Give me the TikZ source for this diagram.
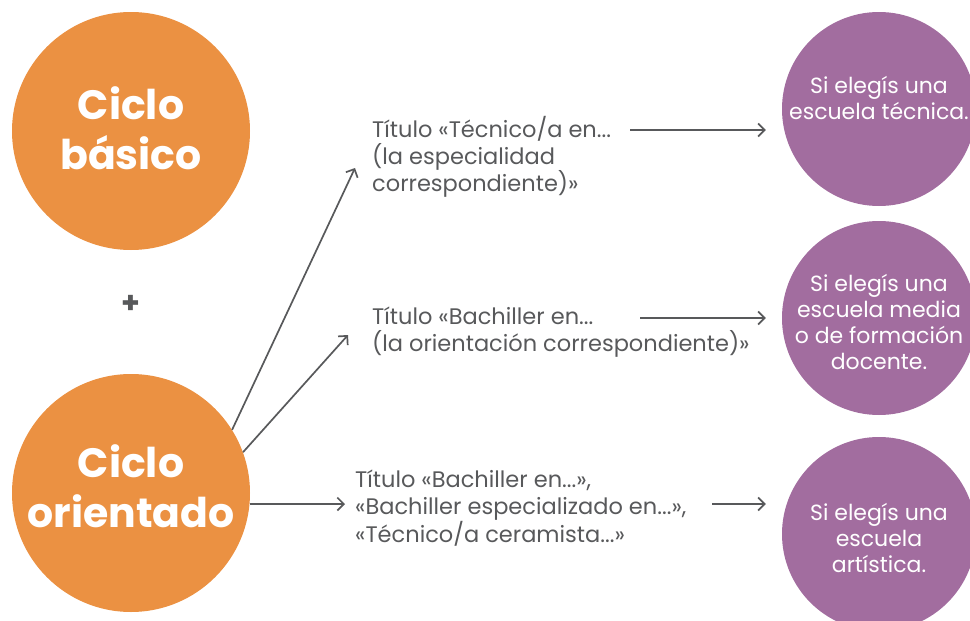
\documentclass[tikz,border=0pt]{standalone}
\usepackage{fontspec}
\setmainfont{Poppins}
\usetikzlibrary{arrows.meta}
\definecolor{naranja}{HTML}{EB9142}
\definecolor{violeta}{HTML}{A26D9F}
\definecolor{gris}{HTML}{58595B}
\tikzset{
  ciclo/.style={circle, fill=naranja, minimum size=238pt, inner sep=0pt},
  ciclotexto/.style={align=center, inner sep=0pt, text=white,
    font=\fontsize{41}{50}\selectfont\bfseries},
  escuela/.style={circle, fill=violeta, minimum size=194pt, inner sep=0pt},
  escuelatexto/.style={align=center, inner sep=0pt, text=white,
    font=\fontsize{22}{26.3}\selectfont},
  titulo/.style={anchor=west, inner sep=0pt, align=left, text=gris,
    font=\fontsize{22.5}{27}\selectfont},
  flecha/.style={draw=gris, line width=1.7pt, -{Straight Barb[length=6.5pt,width=13pt]}}
}
\begin{document}
\begin{tikzpicture}[x=1pt, y=-1pt]
\useasboundingbox (0,0) rectangle (970,621);

% ciclos
\node [ciclo] (basico) at (131,131) {};
\node [ciclotexto] (basicoT) at ([yshift=3pt]basico.center) {Ciclo\\básico};
\node [ciclo] (orientado) at (131,493) {};
\node [ciclotexto] (orientadoT) at ([yshift=7pt]orientado.center) {Ciclo\\orientado};
\node [text=gris, font=\fontsize{30}{30}\selectfont\bfseries] (mas) at (131,304) {+};

% titulos
\node [titulo] (ttec) at (372,157) {Título «Técnico/a en...\\(la especialidad\\correspondiente)»};
\node [titulo] (tbach) at (372,332) {Título «Bachiller en...\\(la orientación correspondiente)»};
\node [titulo] (tart) at (355,508) {Título «Bachiller en...»,\\«Bachiller especializado en...»,\\«Técnico/a ceramista...»};

% escuelas
\node [escuela] (etec) at (879,109) {};
\node [escuelatexto] (etecT) at ([yshift=11pt]etec.center) {Si elegís una\\escuela técnica.};
\node [escuela] (emedia) at (879,318) {};
\node [escuelatexto] (emediaT) at ([yshift=-4pt]emedia.center) {Si elegís una\\escuela media\\o de formación\\docente.};
\node [escuela] (eart) at (879,534) {};
\node [escuelatexto] (eartT) at ([yshift=-4pt]eart.center) {Si elegís una\\escuela\\artística.};

\coordinate (p1) at (355,168);
\coordinate (p2) at (348,335);
\coordinate (p3) at (345,504);
\coordinate (q1) at (630,130);
\coordinate (q2) at (640,318);
\coordinate (q3) at (712,504);

\draw [flecha] (orientado.32) -- (p1);
\draw [flecha] (orientado.20) -- (p2);
\draw [flecha] (orientado.east |- p3) -- (p3);
\draw [flecha, shorten >=16pt] (q1) -- (q1 -| etec.west);
\draw [flecha, shorten >=16pt] (q2) -- (q2 -| emedia.west);
\draw [flecha, shorten >=16pt] (q3) -- (q3 -| eart.west);
\end{tikzpicture}
\end{document}
